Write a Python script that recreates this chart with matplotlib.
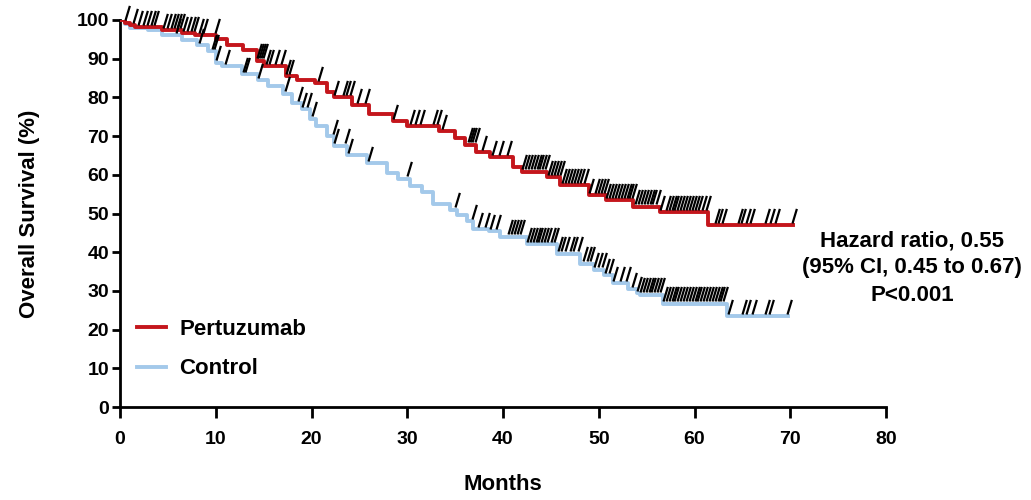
import numpy as np
import matplotlib
matplotlib.use("Agg")
import matplotlib.pyplot as plt
from matplotlib.path import Path

plt.rcParams['font.family'] = ['Liberation Sans', 'DejaVu Sans']
plt.rcParams['font.weight'] = 'bold'

# Kaplan-Meier steps (months, % surviving after the step)
red_t = [0, 0.5, 1.0, 1.6, 4.4, 6.5, 7.8, 10.0, 11.2, 12.8, 14.3, 15.0, 17.3, 18.5,
         20.4, 21.6, 22.3, 24.2, 26.0, 28.5, 30.0, 33.3, 35.0, 36.0, 37.2, 38.6,
         41.0, 42.0, 44.6, 46.0, 49.0, 50.8, 53.6, 56.4, 61.4, 70.3]
red_s = [100, 99.3, 98.7, 98.2, 97.4, 96.6, 96.1, 95.0, 93.5, 92.2, 89.5, 88.0, 85.5, 84.5,
         83.7, 81.5, 80.0, 78.0, 75.8, 73.8, 72.6, 71.2, 69.5, 67.8, 65.8, 64.6,
         62.0, 60.8, 59.4, 57.4, 54.8, 53.5, 51.8, 50.3, 47.0, 47.0]

blue_t = [0, 0.5, 1.0, 2.9, 4.4, 6.5, 8.0, 9.2, 10.0, 10.6, 12.7, 14.4, 15.5, 17.0,
          18.0, 19.0, 19.8, 20.5, 21.6, 22.3, 23.7, 25.8, 27.9, 29.0, 30.3, 31.5,
          32.7, 34.5, 35.2, 36.2, 36.9, 38.5, 39.7, 42.5, 45.6, 48.0, 49.5, 50.5,
          51.5, 53.0, 54.0, 54.3, 56.7, 63.4, 69.8]
blue_s = [100, 99.0, 98.0, 97.4, 96.0, 94.8, 93.5, 92.0, 89.0, 88.0, 86.0, 84.5, 83.0, 81.0,
          78.5, 77.0, 74.5, 72.5, 70.0, 67.5, 65.0, 63.0, 60.5, 59.0, 57.0, 55.5,
          52.5, 51.0, 49.5, 48.0, 46.0, 45.5, 44.0, 42.0, 39.6, 37.0, 35.5, 34.0,
          32.0, 30.5, 29.5, 29.0, 26.7, 23.5, 23.5]

# censoring times (months)
red_cens = [0.5, 1.4, 1.9, 2.4, 2.8, 3.2, 3.6, 4.5, 4.9, 5.3, 5.6, 5.9, 6.3, 6.6, 7.0,
            7.4, 7.7, 8.3, 8.7, 9.9, 14.3, 14.5, 14.7, 14.9, 15.2, 15.6, 16.2, 16.8,
            17.3, 17.7, 20.7, 22.3, 23.3, 23.6, 24.0, 24.7, 25.6, 28.5, 30.3, 30.8,
            31.3, 32.7, 33.1, 33.6, 36.3, 36.5, 36.8, 37.1, 37.8, 38.8, 39.6, 40.4,
            42.0, 42.3, 42.6, 42.9, 43.2, 43.5, 43.8, 44.1, 44.4, 44.7, 45.0, 45.3,
            45.6, 45.9, 46.2, 46.5, 46.8, 47.1, 47.4, 47.7, 48.0, 48.5, 49.0, 49.6,
            49.9, 50.2, 50.5, 50.8, 51.1, 51.4, 51.7, 52.0, 52.3, 52.6, 52.9, 53.2,
            53.5, 53.8, 54.1, 54.4, 54.7, 55.0, 55.3, 55.6, 56.0, 56.4, 57.0, 57.3,
            57.6, 57.9, 58.2, 58.5, 58.8, 59.1, 59.4, 59.7, 60.0, 60.4, 60.8, 61.2,
            62.1, 62.5, 62.9, 64.5, 64.9, 65.4, 65.8, 67.4, 67.9, 68.4, 70.2]
blue_cens = [5.8, 8.2, 9.6, 9.8, 10.0, 11.0, 12.8, 13.1, 14.4, 17.2, 18.6, 19.0, 19.5,
             20.1, 22.2, 22.4, 23.5, 23.8, 25.9, 30.0, 35.0, 36.8, 37.4, 38.1, 38.6,
             39.3, 40.5, 40.8, 41.1, 41.5, 41.8, 42.5, 42.8, 43.1, 43.4, 43.7, 44.0,
             44.3, 44.6, 45.0, 45.3, 45.7, 46.1, 46.5, 47.0, 47.3, 47.8, 48.3, 48.8,
             49.1, 49.5, 49.9, 50.3, 50.7, 51.1, 51.5, 52.2, 52.8, 53.5, 54.0, 54.3,
             54.6, 54.9, 55.2, 55.5, 55.8, 56.1, 56.4, 56.7, 57.0, 57.3, 57.6, 57.9,
             58.2, 58.5, 58.8, 59.1, 59.4, 59.7, 60.0, 60.3, 60.6, 60.9, 61.2, 61.5,
             61.8, 62.1, 62.4, 62.7, 63.0, 63.5, 65.0, 65.4, 66.0, 67.4, 67.8, 69.7]

red_color = '#C4161C'
blue_color = '#A3C9EA'


def surv_at(times, steps_t, steps_s):
    idx = np.searchsorted(steps_t, times, side='right') - 1
    return np.asarray(steps_s)[idx]


# slanted censor mark, anchored at its lower end
tick_mark = Path([(0, 0), (0.3, 1)], [Path.MOVETO, Path.LINETO])

fig = plt.figure(figsize=(10.31, 5.0), dpi=100)
ax = fig.add_axes([0.1164, 0.186, 0.7430, 0.774])

ax.step(red_t, red_s, where='post', color=red_color, lw=2.8, label='Pertuzumab', zorder=3)
ax.step(blue_t, blue_s, where='post', color=blue_color, lw=2.8, label='Control', zorder=2)

for cens, st, ss in [(red_cens, red_t, red_s), (blue_cens, blue_t, blue_s)]:
    ax.plot(cens, surv_at(cens, st, ss) + 0.6, ls='none', marker=tick_mark, ms=21,
            mec='black', mew=1.6, zorder=4, clip_on=False)

ax.set_xlim(0, 80)
ax.set_ylim(0, 100)
ax.set_xticks(np.arange(0, 81, 10))
ax.set_yticks(np.arange(0, 101, 10))
ax.spines['top'].set_visible(False)
ax.spines['right'].set_visible(False)
for s in ['left', 'bottom']:
    ax.spines[s].set_linewidth(2.0)
ax.tick_params(axis='both', direction='out', width=2.0, labelsize=14)
ax.tick_params(axis='y', length=6, pad=2)
ax.tick_params(axis='x', length=8, pad=9)
for lbl in ax.get_xticklabels() + ax.get_yticklabels():
    lbl.set_fontweight('bold')

ax.set_xlabel('Months', fontsize=16, fontweight='bold', labelpad=19)
ax.set_ylabel('Overall Survival (%)', fontsize=16, fontweight='bold', labelpad=26)

ax.legend(loc='center left', bbox_to_anchor=(0.022, 0.15), frameon=False,
          prop={'size': 16, 'weight': 'bold'}, handlelength=1.3, handletextpad=0.6,
          labelspacing=0.85, borderpad=0, borderaxespad=0)

fig.text(0.8846, 0.464, 'Hazard ratio, 0.55\n(95% CI, 0.45 to 0.67)\nP<0.001',
         ha='center', va='center', fontsize=16, fontweight='bold', linespacing=1.4)

fig.savefig('out.png', dpi=100)
